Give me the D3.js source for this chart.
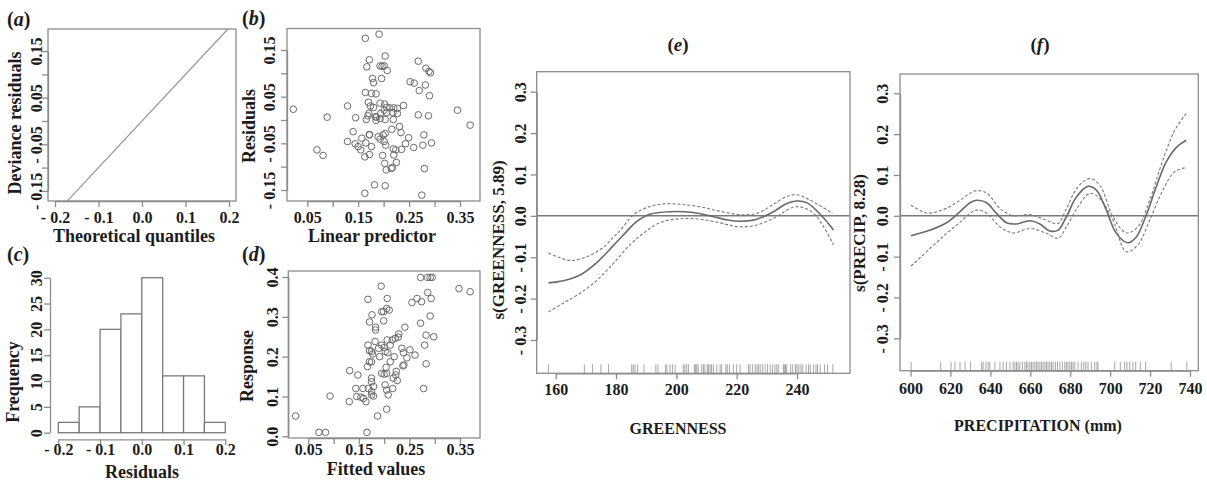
<!DOCTYPE html>
<html>
<head>
<meta charset="utf-8">
<script src="https://cdn.jsdelivr.net/npm/d3@7"></script>
<style>
  body { margin: 0; background: #fff; }
  svg text { font-family: "Liberation Serif", serif; font-weight: bold; }
</style>
</head>
<body>
<div id="chart"></div>
<script>
// ---------- datos ----------
// (a) recta del QQ plot (cuantiles teóricos = residuos)
const qqLine = [[-0.172, -0.172], [0.197, 0.197]];

// (b) residuos frente al predictor lineal
const linearPredictor = [0.0225, 0.191, 0.164, 0.172, 0.167, 0.203, 0.207, 0.193, 0.197, 0.201, 0.178, 0.180, 0.196,
  0.268, 0.283, 0.289, 0.292, 0.252, 0.260, 0.270, 0.282, 0.290, 0.164, 0.176, 0.185, 0.170, 0.174, 0.180, 0.193,
  0.202, 0.206, 0.212, 0.220, 0.227, 0.239, 0.129, 0.171, 0.169, 0.184, 0.186, 0.194, 0.201, 0.206, 0.218, 0.227,
  0.268, 0.288, 0.145, 0.166, 0.185, 0.193, 0.203, 0.219, 0.345, 0.089, 0.370, 0.140, 0.172, 0.189, 0.199, 0.203,
  0.231, 0.234, 0.216, 0.129, 0.144, 0.150, 0.157, 0.165, 0.172, 0.176, 0.193, 0.201, 0.204, 0.219, 0.224, 0.235,
  0.243, 0.249, 0.259, 0.277, 0.279, 0.294, 0.069, 0.081, 0.163, 0.172, 0.155, 0.198, 0.220, 0.202, 0.205, 0.217,
  0.225, 0.215, 0.280, 0.182, 0.203, 0.163, 0.275];
const residuals = [0.023, 0.184, 0.175, 0.129, 0.114, 0.137, 0.106, 0.116, 0.115, 0.116, 0.089, 0.080, 0.089,
  0.126, 0.111, 0.104, 0.101, 0.082, 0.079, 0.063, 0.075, 0.052, 0.059, 0.057, 0.056, 0.038, 0.030, 0.027, 0.036,
  0.034, 0.027, 0.026, 0.026, 0.025, 0.031, 0.030, 0.014, 0.009, 0.007, 0.006, 0.014, 0.021, 0.016, 0.016, 0.014,
  0.011, 0.009, 0.005, 0.001, -0.001, 0.003, 0.001, 0.001, 0.021, 0.006, -0.011, -0.025, -0.032, -0.036, -0.032, -0.029,
  -0.014, -0.027, -0.020, -0.046, -0.051, -0.057, -0.039, -0.049, -0.031, -0.057, -0.041, -0.046, -0.054, -0.062, -0.064, -0.063,
  -0.051, -0.038, -0.059, -0.054, -0.032, -0.049, -0.064, -0.076, -0.079, -0.074, -0.064, -0.076, -0.075, -0.093, -0.107, -0.102,
  -0.091, -0.104, -0.104, -0.139, -0.141, -0.157, -0.161];

// (c) histograma de residuos
const histBreaks = [-0.2, -0.15, -0.1, -0.05, 0, 0.05, 0.1, 0.15, 0.2];
const histCounts = [2, 5, 20, 23, 30, 11, 11, 2];

// (d) respuesta frente a valores ajustados
const fittedValues = [0.025, 0.071, 0.084, 0.166, 0.093, 0.132, 0.148, 0.131, 0.144, 0.146, 0.154, 0.158, 0.159,
  0.164, 0.169, 0.175, 0.175, 0.179, 0.179, 0.175, 0.175, 0.168, 0.167, 0.171, 0.175, 0.171, 0.175, 0.177, 0.182,
  0.183, 0.183, 0.176, 0.171, 0.168, 0.194, 0.206, 0.195, 0.199, 0.205, 0.210, 0.199, 0.189, 0.191, 0.195, 0.200,
  0.202, 0.206, 0.212, 0.207, 0.216, 0.222, 0.228, 0.229, 0.220, 0.212, 0.204, 0.205, 0.195, 0.200, 0.224, 0.223,
  0.226, 0.218, 0.202, 0.205, 0.208, 0.217, 0.205, 0.187, 0.235, 0.238, 0.241, 0.245, 0.239, 0.237, 0.251, 0.261,
  0.255, 0.265, 0.274, 0.272, 0.286, 0.291, 0.295, 0.286, 0.293, 0.272, 0.291, 0.283, 0.298, 0.280, 0.283, 0.278,
  0.348, 0.370];
const responseValues = [0.051, 0.010, 0.010, 0.010, 0.101, 0.165, 0.154, 0.087, 0.120, 0.100, 0.098, 0.120, 0.095,
  0.087, 0.120, 0.112, 0.104, 0.101, 0.125, 0.146, 0.137, 0.229, 0.175, 0.187, 0.187, 0.215, 0.213, 0.207, 0.238,
  0.267, 0.274, 0.305, 0.287, 0.344, 0.377, 0.346, 0.313, 0.313, 0.321, 0.317, 0.290, 0.221, 0.200, 0.229, 0.223,
  0.213, 0.242, 0.229, 0.210, 0.242, 0.246, 0.249, 0.257, 0.200, 0.187, 0.173, 0.158, 0.158, 0.156, 0.163, 0.154,
  0.140, 0.146, 0.129, 0.116, 0.104, 0.120, 0.068, 0.051, 0.221, 0.210, 0.274, 0.197, 0.179, 0.177, 0.217, 0.204,
  0.336, 0.346, 0.338, 0.399, 0.399, 0.399, 0.399, 0.361, 0.346, 0.284, 0.302, 0.254, 0.250, 0.229, 0.182, 0.120,
  0.371, 0.363];

// (e) efecto suavizado de GREENNESS
const greenFit = [[157.6, -0.162], [162.5, -0.157], [168.1, -0.143], [173.6, -0.113], [179.1, -0.072], [183.5, -0.038],
  [186.8, -0.014], [191.2, 0.004], [197.9, 0.010], [205.6, 0.008], [212.3, -0.002], [217.0, -0.010], [221.1, -0.013],
  [226.7, -0.008], [232.2, 0.010], [236.6, 0.030], [239.9, 0.036], [243.2, 0.032], [247.7, 0.004], [252.1, -0.034]];
const greenUpper = [[157.6, -0.090], [161.0, -0.100], [164.8, -0.108], [170.3, -0.099], [175.8, -0.076], [179.1, -0.052],
  [181.3, -0.036], [185.7, 0.002], [190.2, 0.020], [195.7, 0.029], [201.2, 0.028], [207.8, 0.022], [214.5, 0.011],
  [221.1, 0.003], [226.7, 0.006], [232.2, 0.028], [236.6, 0.047], [239.9, 0.051], [244.3, 0.038], [251.8, 0.006]];
const greenLower = [[157.6, -0.232], [162.5, -0.211], [168.1, -0.187], [173.6, -0.156], [179.1, -0.115], [184.6, -0.070],
  [189.1, -0.042], [194.6, -0.016], [201.2, -0.007], [207.8, -0.008], [214.5, -0.017], [220.0, -0.026], [225.6, -0.024],
  [232.2, -0.006], [238.8, 0.021], [242.1, 0.020], [245.5, 0.006], [248.8, -0.026], [252.1, -0.070]];
const greenRug = [157.6, 169.5, 172.2, 175.0, 177.5, 185.2, 185.7, 186.3, 187.1, 189.3, 193.2, 193.9, 196.4, 196.9,
  197.9, 198.7, 199.6, 202.3, 202.8, 203.4, 204.0, 206.0, 206.4, 206.8, 207.2, 208.4, 209.0, 209.5, 210.3, 210.7,
  211.2, 211.7, 212.3, 213.4, 214.5, 215.0, 216.4, 216.9, 217.6, 218.9, 220.0, 221.1, 223.9, 224.4, 225.2, 226.1,
  226.7, 227.2, 227.8, 228.6, 229.4, 230.2, 231.1, 231.9, 232.7, 233.3, 233.8, 235.5, 235.8, 236.2, 236.6, 237.9,
  238.6, 239.5, 240.0, 240.6, 241.3, 241.9, 243.0, 243.8, 244.4, 245.5, 246.3, 246.8, 247.7, 249.1, 250.1, 251.9];

// (f) efecto suavizado de la precipitación
const precipFit = [[600.3, -0.049], [609.8, -0.035], [618.1, -0.017], [624.8, 0.010], [629.8, 0.032], [633.1, 0.038],
  [638.1, 0.032], [643.1, 0.006], [648.1, -0.017], [653.1, -0.020], [659.8, -0.012], [664.8, -0.020], [669.8, -0.037],
  [673.9, -0.035], [678.1, -0.002], [683.1, 0.046], [688.9, 0.072], [693.1, 0.063], [698.1, 0.014], [703.1, -0.043],
  [708.9, -0.066], [713.1, -0.052], [718.1, 0.002], [723.1, 0.071], [728.1, 0.132], [733.1, 0.167], [738.1, 0.185]];
const precipUpper = [[600.3, 0.026], [608.1, 0.007], [616.4, 0.015], [624.8, 0.038], [632.3, 0.061], [638.1, 0.056],
  [644.8, 0.018], [651.4, 0.000], [659.8, 0.003], [668.1, -0.011], [673.9, -0.019], [678.1, 0.018], [683.9, 0.071],
  [689.8, 0.091], [694.8, 0.075], [701.4, -0.002], [708.1, -0.042], [713.9, -0.027], [719.8, 0.038], [726.4, 0.136],
  [732.3, 0.209], [738.1, 0.250]];
const precipLower = [[600.3, -0.123], [609.8, -0.080], [618.1, -0.043], [624.8, -0.016], [629.8, 0.006], [633.1, 0.014],
  [638.1, 0.007], [644.8, -0.027], [651.4, -0.042], [659.8, -0.031], [668.1, -0.043], [673.9, -0.055], [678.1, -0.027],
  [683.9, 0.022], [689.8, 0.055], [694.8, 0.042], [701.4, -0.011], [708.1, -0.088], [713.9, -0.071], [719.8, -0.011],
  [726.4, 0.063], [732.3, 0.108], [738.1, 0.118]];
const precipRug = [600.3, 615.1, 620.3, 622.3, 624.8, 627.3, 630.1, 635.6, 636.4, 637.8, 638.9, 639.8, 642.3, 644.8,
  646.4, 648.1, 649.8, 651.4, 652.3, 653.1, 653.9, 654.8, 656.1, 657.3, 658.1, 658.9, 659.8, 660.6, 661.4, 662.3,
  663.1, 663.9, 664.8, 665.6, 666.4, 667.3, 668.1, 668.9, 669.8, 670.6, 671.4, 672.6, 673.6, 674.8, 676.1, 677.3,
  678.1, 678.9, 679.8, 680.6, 681.4, 682.3, 683.9, 685.6, 686.8, 687.8, 688.9, 690.6, 692.3, 693.4, 693.9, 702.3,
  705.1, 707.3, 708.4, 709.8, 711.4, 712.8, 715.1, 717.8, 730.6, 738.4];

// ticks
const qqTicks = [-0.2, -0.1, 0, 0.1, 0.2];
const residTicks = [-0.15, -0.1, -0.05, 0, 0.05, 0.1, 0.15];
const residLabels = [-0.15, -0.05, 0.05, 0.15];
const predTicks = [0.05, 0.1, 0.15, 0.2, 0.25, 0.3, 0.35];
const predLabels = [0.05, 0.15, 0.25, 0.35];
const freqTicks = [0, 5, 10, 15, 20, 25, 30];
const responseTicks = [0, 0.1, 0.2, 0.3, 0.4];
const smoothTicks = [-0.3, -0.2, -0.1, 0, 0.1, 0.2, 0.3];
const greenTicks = [160, 180, 200, 220, 240];
const precipTicks = [600, 620, 640, 660, 680, 700, 720, 740];

// ---------- estilo ----------
const axisCol = "#8c8c8c";
const textCol = "#1c1c1c";
const lineCol = "#6a6a6a";
const tickFont = 16;
const titleFont = 18;

const svg = d3.select("#chart").append("svg")
  .attr("width", 1207).attr("height", 481);

// formato de R con el signo separado: "- 0.15"
function fmt(digits) {
  return v => (v < -1e-9 ? "- " : "") + Math.abs(v).toFixed(digits);
}
function only(list, f) {
  return d => list.some(v => Math.abs(v - d) < 1e-9) ? f(d) : "";
}

function addBox(x0, x1, y0, y1) {
  svg.append("rect")
    .attr("x", x0).attr("y", y0)
    .attr("width", x1 - x0).attr("height", y1 - y0)
    .attr("fill", "none").attr("stroke", axisCol).attr("stroke-width", 1.3);
}

function styleAxis(ax) {
  ax.attr("font-family", null).attr("font-size", tickFont);
  ax.select(".domain").attr("stroke", axisCol).attr("stroke-width", 1.3);
  ax.selectAll(".tick line").attr("stroke", axisCol).attr("stroke-width", 1.3);
  ax.selectAll("text").attr("fill", textCol);
}

function addXAxis(scale, ticks, format, y, labelY) {
  const ax = svg.append("g").attr("transform", `translate(0,${y})`)
    .call(d3.axisBottom(scale).tickValues(ticks).tickSize(6).tickSizeOuter(0).tickFormat(format));
  styleAxis(ax);
  ax.selectAll("text").attr("y", labelY).attr("dy", 0);
}

function addYAxis(scale, ticks, format, x, off) {
  const ax = svg.append("g").attr("transform", `translate(${x},0)`)
    .call(d3.axisLeft(scale).tickValues(ticks).tickSize(6).tickSizeOuter(0).tickFormat(format));
  styleAxis(ax);
  ax.selectAll("text")
    .attr("transform", "rotate(-90)")
    .attr("x", 0).attr("y", -off).attr("dy", 0)
    .attr("text-anchor", "middle");
}

function addText(x, y, txt, size, rotate) {
  svg.append("text")
    .attr("transform", `translate(${x},${y})` + (rotate ? " rotate(-90)" : ""))
    .attr("text-anchor", "middle")
    .attr("font-size", size)
    .attr("fill", textCol)
    .text(txt);
}

function addTag(x, y, letter, size, anchor) {
  const t = svg.append("text")
    .attr("x", x).attr("y", y)
    .attr("font-size", size)
    .attr("text-anchor", anchor || "start")
    .attr("fill", textCol);
  t.append("tspan").text("(");
  t.append("tspan").attr("font-style", "italic").text(letter);
  t.append("tspan").text(")");
}

// ---------- (a) QQ plot ----------
const xA = d3.scaleLinear().domain([-0.2, 0.2]).range([55, 229]);
const yA = d3.scaleLinear().domain([-0.15, 0.15]).range([190.9, 51.1]);
svg.append("path")
  .datum(qqLine)
  .attr("d", d3.line().x(d => xA(d[0])).y(d => yA(d[1])))
  .attr("stroke", "#9a9a9a").attr("stroke-width", 1.3).attr("fill", "none");
addBox(48, 236, 29, 201);
addXAxis(xA, qqTicks, fmt(1), 201, 22);
addYAxis(yA, residTicks, only(residLabels, fmt(2)), 48, 6);
addText(21, 123, "Deviance residuals", titleFont, true);
addText(134, 242, "Theoretical quantiles", titleFont);
addTag(7, 26, "a", 20);

// ---------- (b) residuos vs predictor ----------
const xB = d3.scaleLinear().domain([0.05, 0.35]).range([307.3, 460]);
const yB = d3.scaleLinear().domain([-0.15, 0.15]).range([190, 50]);
svg.append("g").selectAll("circle")
  .data(linearPredictor.map((v, i) => [v, residuals[i]]))
  .enter().append("circle")
  .attr("cx", d => xB(d[0])).attr("cy", d => yB(d[1])).attr("r", 3.3)
  .attr("fill", "none").attr("stroke", lineCol).attr("stroke-width", 1);
addBox(287, 480, 28.5, 201);
addXAxis(xB, predTicks, only(predLabels, fmt(2)), 201, 22);
addYAxis(yB, residTicks, only(residLabels, fmt(2)), 287, 12);
addText(255, 126, "Residuals", titleFont, true);
addText(372, 242, "Linear predictor", titleFont);
addTag(242, 25, "b", 20);

// ---------- (c) histograma ----------
const xC = d3.scaleLinear().domain([-0.2, 0.2]).range([58.3, 225.3]);
const yC = d3.scaleLinear().domain([0, 30]).range([432.7, 277.7]);
svg.append("g").selectAll("rect")
  .data(histCounts)
  .enter().append("rect")
  .attr("x", (d, i) => xC(histBreaks[i]))
  .attr("width", (d, i) => xC(histBreaks[i + 1]) - xC(histBreaks[i]))
  .attr("y", d => yC(d))
  .attr("height", d => yC(0) - yC(d))
  .attr("fill", "#fff").attr("stroke", "#7a7a7a").attr("stroke-width", 1.3);
addXAxis(xC, qqTicks, fmt(1), 439.3, 16);
addYAxis(yC, freqTicks, d => d, 50, 8);
addText(19, 382, "Frequency", titleFont, true);
addText(142, 478, "Residuals", titleFont);
addTag(7, 261, "c", 20);

// ---------- (d) respuesta vs ajustados ----------
const xD = d3.scaleLinear().domain([0.05, 0.35]).range([308.3, 460]);
const yD = d3.scaleLinear().domain([0, 0.4]).range([436.3, 277]);
svg.append("g").selectAll("circle")
  .data(fittedValues.map((v, i) => [v, responseValues[i]]))
  .enter().append("circle")
  .attr("cx", d => xD(d[0])).attr("cy", d => yD(d[1])).attr("r", 3.3)
  .attr("fill", "none").attr("stroke", lineCol).attr("stroke-width", 1);
addBox(288.3, 480, 271, 438);
addXAxis(xD, predTicks, only(predLabels, fmt(2)), 438, 17);
addYAxis(yD, responseTicks, fmt(1), 288.3, 10);
addText(253, 366, "Response", titleFont, true);
addText(376, 475, "Fitted values", titleFont);
addTag(242, 261, "d", 20);

// ---------- paneles de efectos suavizados ----------
function smoothPanel(p) {
  const line = d3.line().x(d => p.x(d[0])).y(d => p.y(d[1])).curve(d3.curveCatmullRom);
  // línea del cero
  svg.append("line")
    .attr("x1", p.box[0]).attr("x2", p.box[1])
    .attr("y1", p.y(0)).attr("y2", p.y(0))
    .attr("stroke", "#7a7a7a").attr("stroke-width", 1.5);
  // rug
  svg.append("g").selectAll("line")
    .data(p.rug)
    .enter().append("line")
    .attr("x1", d => p.x(d)).attr("x2", d => p.x(d))
    .attr("y1", p.box[3]).attr("y2", p.box[3] - 9)
    .attr("stroke", "#8f8f8f").attr("stroke-width", 0.8);
  [p.upper, p.lower].forEach(band => {
    svg.append("path").datum(band).attr("d", line)
      .attr("fill", "none").attr("stroke", "#7a7a7a")
      .attr("stroke-width", 1.1).attr("stroke-dasharray", "3,2");
  });
  svg.append("path").datum(p.fit).attr("d", line)
    .attr("fill", "none").attr("stroke", lineCol).attr("stroke-width", 1.6);
  addBox(p.box[0], p.box[1], p.box[2], p.box[3]);
  addXAxis(p.x, p.xTicks, d => d, p.box[3], p.xLabY);
  addYAxis(p.y, smoothTicks, fmt(1), p.box[0], p.yOff);
}

// (e)
const xE = d3.scaleLinear().domain([160, 240]).range([555.7, 797]);
const yE = d3.scaleLinear().domain([-0.3, 0.3]).range([340, 91.7]);
smoothPanel({ x: xE, y: yE, box: [536.7, 850, 71.7, 373.3], fit: greenFit, upper: greenUpper, lower: greenLower,
  rug: greenRug, xTicks: greenTicks, xLabY: 22, yOff: 11 });
addText(504, 240, "s(GREENNESS, 5.89)", 17, true);
addText(678, 434, "GREENNESS", 16);
addTag(678, 51, "e", 19, "middle");

// (f)
const xF = d3.scaleLinear().domain([600, 740]).range([910.5, 1190]);
const yF = d3.scaleLinear().domain([-0.3, 0.3]).range([338.3, 93.3]);
smoothPanel({ x: xF, y: yF, box: [900, 1198.3, 74, 370.7], fit: precipFit, upper: precipUpper, lower: precipLower,
  rug: precipRug, xTicks: precipTicks, xLabY: 23, yOff: 12 });
addText(865, 233, "s(PRECIP, 8.28)", 17, true);
addText(1038, 431, "PRECIPITATION (mm)", 16);
addTag(1040, 51, "f", 19, "middle");
</script>
</body>
</html>
